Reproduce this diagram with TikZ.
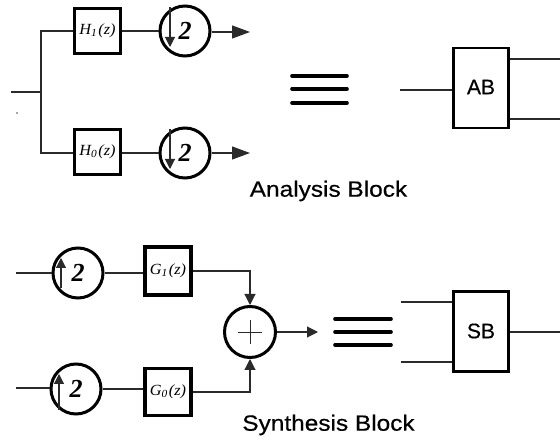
\documentclass[tikz,border=0pt]{standalone}
\usepackage{fontspec}
\setmainfont{Liberation Sans}
\newfontfamily\serifface{Liberation Serif}
\newcommand{\flabel}[2]{#1\textsubscript{#2}\kern1pt(z)}
\usetikzlibrary{arrows.meta,calc}
\definecolor{wire}{HTML}{2A2A2A}
\tikzset{
  wireline/.style={draw=wire,line width=1.1pt},
  plusline/.style={draw=wire,line width=0.7pt},
  filter/.style={draw=black,line width=3.2pt,minimum width=46pt,minimum height=45pt,inner sep=0pt,font=\serifface\itshape\addfontfeature{FakeStretch=1.05}\fontsize{15.5}{15.5}\selectfont},
  rate/.style={circle,draw=black,line width=3pt,minimum size=50pt,inner sep=0pt,font=\serifface\bfseries\itshape\fontsize{26}{26}\selectfont},
  summer/.style={circle,draw=black,line width=3pt,minimum size=51pt,inner sep=0pt},
  bigblock/.style={draw=black,line width=2.2pt,minimum width=55pt,minimum height=80pt,inner sep=0pt},
  blocktext/.style={inner sep=0pt,font=\addfontfeature{FakeBold=0.4}\fontsize{21}{21}\selectfont},
  caption/.style={font=\addfontfeature{FakeStretch=1.11,FakeBold=0.5}\fontsize{22}{22}\selectfont,inner sep=0pt},
  equivbar/.style={draw=black,line width=3.6pt,line cap=round},
  bighead/.style={-{Triangle[length=18pt,width=13pt]}},
  smallhead/.style={-{Triangle[length=11pt,width=11pt]}},
  innerhead/.style={-{Triangle[length=10pt,width=10pt]}},
}
\begin{document}
\begin{tikzpicture}[x=1pt,y=-1pt]
\useasboundingbox (0,0) rectangle (560,443);
% analysis filter bank
\coordinate (ain) at (11,92);
\coordinate (ajoin) at (41,92);
\node[filter] (h1) at (97.5,31) {\flabel{H}{1}};
\node[filter] (h0) at (97.5,152) {\flabel{H}{0}};
\node[rate] (d1) at (185,31) {2};
\node[rate] (d0) at (185,153) {2};
\coordinate (o1) at (250,32);
\coordinate (o0) at (250,153);
\draw[wireline] (ain) -- (ajoin);
\draw[wireline] (h1.west) -| (ajoin) |- (h0.west |- d0.west);
\draw[wireline] (h1.east) -- (d1.west);
\draw[wireline] (h0.east |- d0.west) -- (d0.west);
\draw[wireline,bighead] (o1 -| d1.east) -- (o1);
\draw[wireline,bighead] (d0.east) -- (o0);
\draw[wireline,innerhead] ($(d1.center)+(-15,-24)$) -- ($(d1.center)+(-15,16)$);
\draw[wireline,innerhead] ($(d0.center)+(-15,-24)$) -- ($(d0.center)+(-15,16)$);
\fill[black!70] (17,113) circle (0.9pt);
% equivalence
\draw[equivbar] (292,76) -- (347,76);
\draw[equivbar] (292,89) -- (347,89);
\draw[equivbar] (292,103) -- (347,103);
% AB
\node[bigblock] (ab) at (481,88) {};
\node[blocktext] (abt) at (481,87) {AB};
\coordinate (abin) at (400,90);
\coordinate (abo1) at (560,59);
\coordinate (abo2) at (560,119);
\draw[wireline] (abin) -- (abin -| ab.west);
\draw[wireline] (abo1 -| ab.east) -- (abo1);
\draw[wireline] (abo2 -| ab.east) -- (abo2);
\node[caption] (acap) at (328.5,191) {Analysis Block};
% synthesis filter bank
\coordinate (sin1) at (16,273);
\coordinate (sin0) at (16,388);
\node[rate] (u1) at (78,273) {2};
\node[rate] (u0) at (76,389) {2};
\node[filter,minimum height=48pt] (g1) at (168,271) {\flabel{G}{1}};
\node[filter,minimum height=47pt] (g0) at (168,392) {\flabel{G}{0}};
\node[summer] (sum) at (250,332) {};
\coordinate (sout) at (318,332);
\draw[wireline] (sin1) -- (u1.west);
\draw[wireline] (sin0) -- (sin0 -| u0.west);
\draw[wireline] (u1.east) -- (u1.east -| g1.west);
\draw[wireline] (u0.east) -- (u0.east -| g0.west);
\draw[wireline,smallhead] (g1.east) -| (sum.north);
\draw[wireline,smallhead] (g0.east) -| (sum.south);
\draw[wireline,smallhead] (sum.east) -- (sout);
\draw[plusline] ($(sum.center)+(-12,0)$) -- ($(sum.center)+(12,0)$);
\draw[plusline] ($(sum.center)+(0,-12)$) -- ($(sum.center)+(0,12)$);
\draw[wireline,innerhead] ($(u1.center)+(-17,15)$) -- ($(u1.center)+(-17,-15)$);
\draw[wireline,innerhead] ($(u0.center)+(-17,21)$) -- ($(u0.center)+(-17,-15)$);
% equivalence
\draw[equivbar] (335,319) -- (391,319);
\draw[equivbar] (335,332) -- (391,332);
\draw[equivbar] (335,345) -- (391,345);
% SB
\node[bigblock] (sb) at (481,331.5) {};
\node[blocktext] (sbt) at (481,331) {SB};
\coordinate (sbi1) at (401,302);
\coordinate (sbi0) at (401,362);
\coordinate (sbo) at (560,332);
\draw[wireline] (sbi1) -- (sbi1 -| sb.west);
\draw[wireline] (sbi0) -- (sbi0 -| sb.west);
\draw[wireline] (sbo -| sb.east) -- (sbo);
\node[caption] (scap) at (328.5,425) {Synthesis Block};
\end{tikzpicture}
\end{document}
